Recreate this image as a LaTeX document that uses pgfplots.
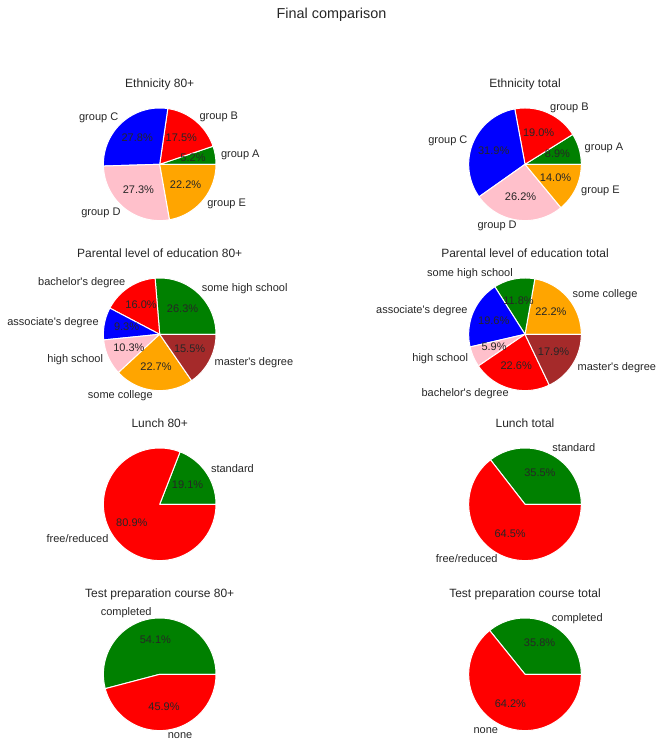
\documentclass[border=0pt]{standalone}
\usepackage{pgfplots}
\pgfplotsset{compat=1.18}
\usepackage{fontspec}
\setmainfont{Liberation Sans}[Ligatures=TeXOff]
\definecolor{txt}{RGB}{38,38,38}
\definecolor{mgreen}{HTML}{008000}
\definecolor{mred}{HTML}{FF0000}
\definecolor{mblue}{HTML}{0000FF}
\definecolor{mpink}{HTML}{FFC0CB}
\definecolor{morange}{HTML}{FFA500}
\definecolor{mbrown}{HTML}{A52A2A}

% slice between cumulative percentages #1 and #2
\newcommand{\pieslice}[3]{\addplot[fill=#3, draw=white, line width=1pt, line join=round, domain=#1*3.6:#2*3.6, samples=90] ({cos(x)},{sin(x)}) -- (axis cs:0,0) -- cycle;}
\newcommand{\plabel}[4]{\node[lbl,anchor=#3] at (axis cs:{1.1*cos((#1+#2)*1.8)},{1.1*sin((#1+#2)*1.8)}) {#4};}
\newcommand{\ppct}[3]{\node[lbl,anchor=center] at (axis cs:{0.6*cos((#1+#2)*1.8)},{0.6*sin((#1+#2)*1.8)}) {#3\%};}

\tikzset{lbl/.style={font=\fontsize{11}{13}\selectfont, text=txt, inner sep=0pt, text height=8.0pt, text depth=2.3pt}}
\pgfplotsset{pieax/.style={hide axis, scale only axis, width=112.6pt, height=112.6pt,
  xmin=-1, xmax=1, ymin=-1, ymax=1, clip=false, anchor=center,
  title style={at={(0.5,1)}, anchor=base, yshift=14.1pt, inner sep=0pt,
    font=\fontsize{12}{14.4}\selectfont, text=txt}}}

\begin{document}
\begin{tikzpicture}
\path[use as bounding box] (0,0) rectangle (663pt,753pt);
\node[font=\fontsize{14.4}{17}\selectfont, text=txt, inner sep=0pt, text height=10.5pt, text depth=3pt] at (331.5pt,738.5pt) {Final comparison};

% Ethnicity 80+
\begin{axis}[pieax, at={(159.7pt,588.7pt)}, title={Ethnicity 80+}]
\pieslice{0}{5.2}{mgreen}
\pieslice{5.2}{22.7}{mred}
\pieslice{22.7}{50.5}{mblue}
\pieslice{50.5}{77.8}{mpink}
\pieslice{77.8}{100}{morange}
\plabel{0}{5.2}{west}{group A}
\plabel{5.2}{22.7}{west}{group B}
\plabel{22.7}{50.5}{east}{group C}
\plabel{50.5}{77.8}{east}{group D}
\plabel{77.8}{100}{west}{group E}
\ppct{0}{5.2}{5.2}
\ppct{5.2}{22.7}{17.5}
\ppct{22.7}{50.5}{27.8}
\ppct{50.5}{77.8}{27.3}
\ppct{77.8}{100}{22.2}
\end{axis}

% Ethnicity total
\begin{axis}[pieax, at={(525pt,588.7pt)}, title={Ethnicity total}]
\pieslice{0}{8.9}{mgreen}
\pieslice{8.9}{27.9}{mred}
\pieslice{27.9}{59.8}{mblue}
\pieslice{59.8}{86.0}{mpink}
\pieslice{86.0}{100}{morange}
\plabel{0}{8.9}{west}{group A}
\plabel{8.9}{27.9}{west}{group B}
\plabel{27.9}{59.8}{east}{group C}
\plabel{59.8}{86.0}{east}{group D}
\plabel{86.0}{100}{west}{group E}
\ppct{0}{8.9}{8.9}
\ppct{8.9}{27.9}{19.0}
\ppct{27.9}{59.8}{31.9}
\ppct{59.8}{86.0}{26.2}
\ppct{86.0}{100}{14.0}
\end{axis}

% Parental level of education 80+
\begin{axis}[pieax, at={(159.7pt,418.7pt)}, title={Parental level of education 80+}]
\pieslice{0}{26.3}{mgreen}
\pieslice{26.3}{42.3}{mred}
\pieslice{42.3}{51.6}{mblue}
\pieslice{51.6}{61.9}{mpink}
\pieslice{61.9}{84.6}{morange}
\pieslice{84.6}{100}{mbrown}
\plabel{0}{26.3}{west}{some high school}
\plabel{26.3}{42.3}{east}{bachelor's degree}
\plabel{42.3}{51.6}{east}{associate's degree}
\plabel{51.6}{61.9}{east}{high school}
\plabel{61.9}{84.6}{east}{some college}
\plabel{84.6}{100}{west}{master's degree}
\ppct{0}{26.3}{26.3}
\ppct{26.3}{42.3}{16.0}
\ppct{42.3}{51.6}{9.3}
\ppct{51.6}{61.9}{10.3}
\ppct{61.9}{84.6}{22.7}
\ppct{84.6}{100}{15.5}
\end{axis}

% Parental level of education total
\begin{axis}[pieax, at={(525pt,418.7pt)}, title={Parental level of education total}]
\pieslice{0}{22.2}{morange}
\pieslice{22.2}{34.0}{mgreen}
\pieslice{34.0}{53.6}{mblue}
\pieslice{53.6}{59.5}{mpink}
\pieslice{59.5}{82.1}{mred}
\pieslice{82.1}{100}{mbrown}
\plabel{0}{22.2}{west}{some college}
\plabel{22.2}{34.0}{east}{some high school}
\plabel{34.0}{53.6}{east}{associate's degree}
\plabel{53.6}{59.5}{east}{high school}
\plabel{59.5}{82.1}{east}{bachelor's degree}
\plabel{82.1}{100}{west}{master's degree}
\ppct{0}{22.2}{22.2}
\ppct{22.2}{34.0}{11.8}
\ppct{34.0}{53.6}{19.6}
\ppct{53.6}{59.5}{5.9}
\ppct{59.5}{82.1}{22.6}
\ppct{82.1}{100}{17.9}
\end{axis}

% Lunch 80+
\begin{axis}[pieax, at={(159.7pt,248.7pt)}, title={Lunch 80+}]
\pieslice{0}{19.1}{mgreen}
\pieslice{19.1}{100}{mred}
\plabel{0}{19.1}{west}{standard}
\plabel{19.1}{100}{east}{free/reduced}
\ppct{0}{19.1}{19.1}
\ppct{19.1}{100}{80.9}
\end{axis}

% Lunch total
\begin{axis}[pieax, at={(525pt,248.7pt)}, title={Lunch total}]
\pieslice{0}{35.5}{mgreen}
\pieslice{35.5}{100}{mred}
\plabel{0}{35.5}{west}{standard}
\plabel{35.5}{100}{east}{free/reduced}
\ppct{0}{35.5}{35.5}
\ppct{35.5}{100}{64.5}
\end{axis}

% Test preparation course 80+
\begin{axis}[pieax, at={(159.7pt,78.7pt)}, title={Test preparation course 80+}]
\pieslice{0}{54.1}{mgreen}
\pieslice{54.1}{100}{mred}
\plabel{0}{54.1}{east}{completed}
\plabel{54.1}{100}{west}{none}
\ppct{0}{54.1}{54.1}
\ppct{54.1}{100}{45.9}
\end{axis}

% Test preparation course total
\begin{axis}[pieax, at={(525pt,78.7pt)}, title={Test preparation course total}]
\pieslice{0}{35.8}{mgreen}
\pieslice{35.8}{100}{mred}
\plabel{0}{35.8}{west}{completed}
\plabel{35.8}{100}{east}{none}
\ppct{0}{35.8}{35.8}
\ppct{35.8}{100}{64.2}
\end{axis}
\end{tikzpicture}
\end{document}
